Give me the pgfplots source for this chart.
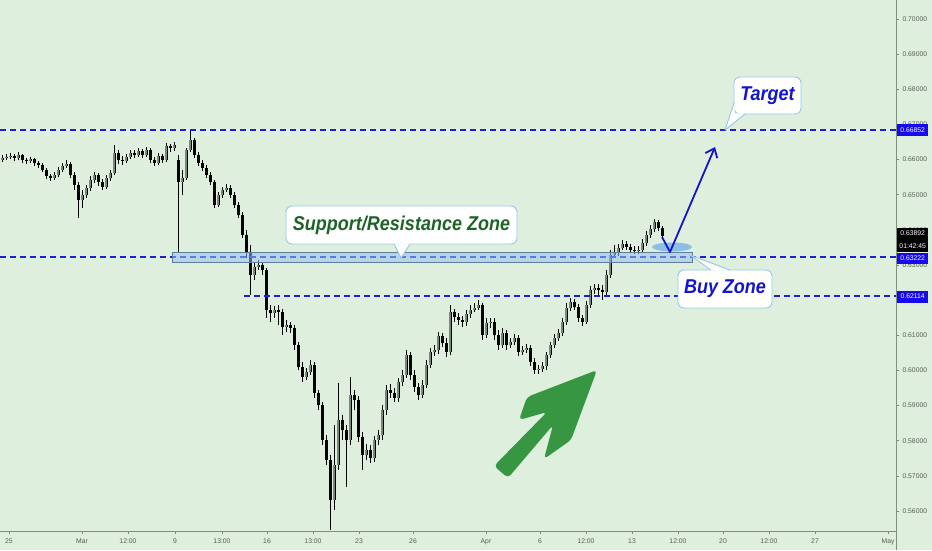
\documentclass[border=0pt]{standalone}
\usepackage{graphicx}
\usepackage{pgfplots}
\pgfplotsset{compat=1.18}
\usepackage{pgfplotstable}
\usepackage{fontspec}
\setmainfont{Liberation Sans}
\usetikzlibrary{arrows.meta}
\definecolor{bg}{RGB}{222,239,221}
\definecolor{axcol}{RGB}{125,145,125}
\definecolor{tickcol}{RGB}{85,95,85}
\definecolor{levelblue}{RGB}{30,30,210}
\definecolor{lblue}{RGB}{22,8,240}
\definecolor{zonefill}{RGB}{150,195,240}
\definecolor{zonedraw}{RGB}{95,125,155}
\definecolor{callout}{RGB}{150,200,230}
\definecolor{txtgreen}{RGB}{28,100,38}
\definecolor{txtblue}{RGB}{20,20,205}
\definecolor{arrgreen}{RGB}{55,150,65}
\definecolor{upgray}{RGB}{120,135,120}
\definecolor{ellblue}{RGB}{120,180,230}

\pgfplotstableread{
x o h l c
2 0.6599 0.6613 0.6593 0.6604
6 0.6604 0.6616 0.6599 0.6607
10 0.6607 0.6619 0.6602 0.6610
14 0.6610 0.6616 0.6596 0.6604
18 0.6604 0.6622 0.6599 0.6613
22 0.6613 0.6616 0.6590 0.6599
26 0.6599 0.6604 0.6587 0.6596
30 0.6596 0.6607 0.6590 0.6602
34 0.6602 0.6604 0.6582 0.6590
38 0.6590 0.6596 0.6576 0.6585
42 0.6585 0.6590 0.6565 0.6570
46 0.6570 0.6576 0.6545 0.6553
50 0.6553 0.6559 0.6539 0.6547
54 0.6547 0.6565 0.6542 0.6556
58 0.6556 0.6579 0.6550 0.6570
62 0.6570 0.6590 0.6565 0.6582
66 0.6582 0.6599 0.6576 0.6587
70 0.6587 0.6593 0.6547 0.6556
74 0.6556 0.6565 0.6513 0.6528
78 0.6528 0.6536 0.6434 0.6485
82 0.6485 0.6513 0.6462 0.6499
86 0.6499 0.6528 0.6491 0.6519
90 0.6519 0.6553 0.6511 0.6542
94 0.6542 0.6565 0.6533 0.6556
98 0.6556 0.6562 0.6525 0.6536
102 0.6536 0.6545 0.6513 0.6522
106 0.6522 0.6556 0.6516 0.6547
110 0.6547 0.6570 0.6539 0.6562
114 0.6562 0.6641 0.6556 0.6619
118 0.6619 0.6627 0.6587 0.6599
122 0.6599 0.6610 0.6585 0.6596
126 0.6596 0.6616 0.6590 0.6607
130 0.6607 0.6627 0.6602 0.6619
134 0.6619 0.6627 0.6604 0.6613
138 0.6613 0.6633 0.6607 0.6624
142 0.6624 0.6630 0.6604 0.6613
146 0.6613 0.6636 0.6607 0.6627
150 0.6627 0.6633 0.6590 0.6599
154 0.6599 0.6607 0.6582 0.6590
158 0.6590 0.6619 0.6585 0.6610
162 0.6610 0.6616 0.6590 0.6599
166 0.6599 0.6647 0.6593 0.6639
170 0.6639 0.6644 0.6622 0.6633
174 0.6633 0.6650 0.6624 0.6641
178 0.6599 0.6613 0.6334 0.6536
182 0.6536 0.6570 0.6499 0.6547
186 0.6547 0.6633 0.6542 0.6627
190 0.6627 0.6684 0.6622 0.6656
194 0.6656 0.6661 0.6604 0.6613
198 0.6613 0.6622 0.6582 0.6590
202 0.6590 0.6599 0.6567 0.6576
206 0.6576 0.6585 0.6547 0.6556
210 0.6556 0.6565 0.6528 0.6536
214 0.6536 0.6542 0.6462 0.6471
218 0.6471 0.6508 0.6465 0.6499
222 0.6499 0.6522 0.6491 0.6513
226 0.6513 0.6530 0.6508 0.6519
230 0.6519 0.6528 0.6491 0.6499
234 0.6499 0.6508 0.6462 0.6471
238 0.6471 0.6479 0.6434 0.6442
242 0.6442 0.6451 0.6377 0.6386
246 0.6386 0.6400 0.6320 0.6337
250 0.6337 0.6357 0.6215 0.6272
254 0.6272 0.6308 0.6257 0.6294
258 0.6294 0.6314 0.6286 0.6300
262 0.6300 0.6308 0.6272 0.6286
266 0.6286 0.6291 0.6149 0.6172
270 0.6172 0.6186 0.6138 0.6163
274 0.6163 0.6183 0.6149 0.6172
278 0.6172 0.6186 0.6129 0.6166
282 0.6166 0.6175 0.6101 0.6123
286 0.6123 0.6143 0.6109 0.6129
290 0.6129 0.6138 0.6106 0.6121
294 0.6121 0.6129 0.6058 0.6072
298 0.6072 0.6081 0.6001 0.6010
302 0.6010 0.6024 0.5967 0.5981
306 0.5981 0.6007 0.5973 0.5995
310 0.5995 0.6030 0.5987 0.6015
314 0.6015 0.6024 0.5921 0.5936
318 0.5936 0.5944 0.5887 0.5902
322 0.5902 0.5910 0.5788 0.5802
326 0.5802 0.5816 0.5731 0.5745
330 0.5745 0.5759 0.5546 0.5631
334 0.5631 0.5845 0.5603 0.5731
338 0.5731 0.5964 0.5716 0.5859
342 0.5859 0.5873 0.5802 0.5830
346 0.5830 0.5845 0.5668 0.5802
350 0.5802 0.5981 0.5788 0.5930
354 0.5930 0.5944 0.5887 0.5916
358 0.5916 0.5927 0.5796 0.5811
362 0.5811 0.5824 0.5716 0.5759
366 0.5759 0.5791 0.5745 0.5773
370 0.5773 0.5788 0.5736 0.5751
374 0.5751 0.5813 0.5739 0.5802
378 0.5802 0.5830 0.5788 0.5816
382 0.5816 0.5902 0.5802 0.5887
386 0.5887 0.5958 0.5873 0.5944
390 0.5944 0.5961 0.5921 0.5936
394 0.5936 0.5950 0.5910 0.5921
398 0.5921 0.5978 0.5910 0.5967
402 0.5967 0.6001 0.5956 0.5987
406 0.5987 0.6058 0.5978 0.6044
410 0.6044 0.6052 0.5973 0.5987
414 0.5987 0.6001 0.5939 0.5953
418 0.5953 0.5964 0.5916 0.5930
422 0.5930 0.5973 0.5921 0.5958
426 0.5958 0.6030 0.5950 0.6015
430 0.6015 0.6064 0.6007 0.6052
434 0.6052 0.6072 0.6041 0.6058
438 0.6058 0.6109 0.6047 0.6098
442 0.6098 0.6106 0.6067 0.6078
446 0.6078 0.6092 0.6038 0.6052
450 0.6052 0.6186 0.6044 0.6166
454 0.6166 0.6175 0.6138 0.6152
458 0.6152 0.6163 0.6129 0.6143
462 0.6143 0.6155 0.6123 0.6138
466 0.6138 0.6172 0.6126 0.6160
470 0.6160 0.6186 0.6149 0.6172
474 0.6172 0.6192 0.6166 0.6178
478 0.6178 0.6200 0.6172 0.6186
482 0.6186 0.6192 0.6086 0.6101
486 0.6101 0.6149 0.6092 0.6135
490 0.6135 0.6149 0.6121 0.6138
494 0.6138 0.6149 0.6086 0.6101
498 0.6101 0.6115 0.6058 0.6072
502 0.6072 0.6121 0.6064 0.6106
506 0.6106 0.6115 0.6058 0.6072
510 0.6072 0.6092 0.6064 0.6081
514 0.6081 0.6103 0.6072 0.6092
518 0.6092 0.6101 0.6041 0.6052
522 0.6052 0.6069 0.6044 0.6058
526 0.6058 0.6075 0.6050 0.6064
530 0.6064 0.6072 0.6013 0.6024
534 0.6024 0.6035 0.5990 0.6001
538 0.6001 0.6015 0.5990 0.6004
542 0.6004 0.6024 0.5995 0.6013
546 0.6013 0.6052 0.6001 0.6044
550 0.6044 0.6081 0.6035 0.6072
554 0.6072 0.6103 0.6064 0.6092
558 0.6092 0.6118 0.6084 0.6106
562 0.6106 0.6149 0.6098 0.6138
566 0.6138 0.6192 0.6129 0.6178
570 0.6178 0.6206 0.6169 0.6195
574 0.6195 0.6203 0.6172 0.6180
578 0.6180 0.6189 0.6138 0.6149
582 0.6149 0.6158 0.6126 0.6138
586 0.6138 0.6198 0.6132 0.6186
590 0.6186 0.6240 0.6178 0.6229
594 0.6229 0.6246 0.6217 0.6234
598 0.6234 0.6246 0.6215 0.6229
602 0.6229 0.6243 0.6200 0.6223
606 0.6223 0.6286 0.6215 0.6272
610 0.6272 0.6343 0.6263 0.6328
614 0.6328 0.6357 0.6320 0.6337
618 0.6337 0.6360 0.6325 0.6348
622 0.6348 0.6371 0.6343 0.6360
626 0.6360 0.6368 0.6343 0.6351
630 0.6351 0.6360 0.6334 0.6343
634 0.6343 0.6354 0.6331 0.6340
638 0.6340 0.6354 0.6331 0.6343
642 0.6343 0.6374 0.6337 0.6363
646 0.6363 0.6397 0.6354 0.6386
650 0.6386 0.6414 0.6377 0.6402
654 0.6402 0.6431 0.6394 0.6422
658 0.6422 0.6428 0.6397 0.6405
662 0.6405 0.6411 0.6374 0.6383
}\candles

\pgfplotstableread{
x y
0 0.66852
896 0.66852
}\levelA
\pgfplotstableread{
x y
0 0.63222
896 0.63222
}\levelB
\pgfplotstableread{
x y
244 0.62114
896 0.62114
}\levelC

\newcommand{\pricefont}{\fontsize{6.8}{7}\selectfont}
\newcommand{\callfont}{\fontsize{20}{24}\selectfont\bfseries\itshape}
\tikzset{level/.style={draw=levelblue, line width=2pt, dash pattern=on 5.5pt off 4.5pt}}

\begin{document}
\begin{tikzpicture}
\path[use as bounding box, fill=bg] (0,0) rectangle (932pt,550pt);
\begin{axis}[
  at={(0pt,19pt)}, anchor=south west,
  scale only axis, width=896pt, height=531pt,
  xmin=0, xmax=896, ymin=0.55431, ymax=0.70541,
  axis x line*=bottom, axis y line*=right,
  axis line style={draw=axcol, line width=0.8pt, -},
  tick align=outside, major tick length=3pt,
  tick style={draw=axcol, line width=0.6pt},
  ytick={0.56,0.57,0.58,0.59,0.60,0.61,0.63,0.64,0.65,0.66,0.67,0.68,0.69,0.70},
  scaled y ticks=false,
  /pgf/number format/assume math mode=true,
  yticklabel style={/pgf/number format/fixed, /pgf/number format/fixed zerofill, /pgf/number format/precision=5},
  xtick={9,82,128,175,222,267,313,359,413,486,540,586,632,678,723,769,815,888},
  xticklabels={25,Mar,12:00,9,13:00,16,13:00,23,26,Apr,6,12:00,13,12:00,20,12:00,27,May},
  ticklabel style={font=\pricefont, text=tickcol},
  xticklabel style={yshift=-1pt},
  clip=false,
]
\addplot[quiver={u=0,v=\thisrow{h}-\thisrow{l}}, draw=black, line width=0.8pt, mark=none] table[x=x,y=l]{\candles};
\addplot[quiver={u=0,v=\thisrow{c}-\thisrow{o}}, draw=black, line width=3.0pt, mark=none] table[x=x,y=o]{\candles};
\addplot[quiver={u=0,v=\thisrow{c}-\thisrow{o}}, draw=upgray, line width=1.2pt, mark=none,
  restrict expr to domain={\thisrow{c}-\thisrow{o}}{0.00001:1}] table[x=x,y=o]{\candles};
\addplot[level, mark=none] table[x=x,y=y]{\levelA};
\addplot[level, mark=none] table[x=x,y=y]{\levelB};
\addplot[level, mark=none] table[x=x,y=y]{\levelC};
\end{axis}
\begin{scope}[x=1pt, y=-1pt, yshift=550pt]
\draw[axcol, line width=0.8pt] (896.4,531) -- (896.4,550);
% support / resistance zone
\draw[zonedraw, line width=0.8pt, fill=zonefill, fill opacity=0.55] (172,252) rectangle (692,262);
% buy ellipse
\fill[ellblue, opacity=0.8] (672,247) ellipse [x radius=20pt, y radius=4.5pt];
% blue arrow
\draw[txtblue, line width=1.8pt, line join=round, -{Straight Barb[length=8pt, width=13pt]}] (662,237) -- (670,252) -- (715,147);
% green arrow
\fill[arrgreen, rounded corners=4pt] (494,466) -- (547,412) -- (519,420) -- (527,397) -- (597,370) -- (571,440) -- (544,459) -- (553,425) -- (508,478) -- cycle;
% callout: Support/Resistance Zone
\draw[callout, line width=0.9pt, fill=white, rounded corners=6pt] (286,206) rectangle (517,244);
\fill[white] (394,243.3) -- (401,258) -- (410,243.3) -- cycle;
\draw[callout, line width=0.9pt, line join=round] (394,244) -- (401,258) -- (410,244);
\node[txtgreen, font=\callfont, inner sep=0pt] at (401.5,225) {\scalebox{0.9}[1]{Support/Resistance Zone}};
% callout: Target
\draw[callout, line width=0.9pt, fill=white, rounded corners=6pt] (734,77) rectangle (801,114);
\fill[white] (734.6,103) -- (725,130) -- (745,113.4) -- (734.6,113.4) -- cycle;
\draw[callout, line width=0.9pt, line join=round] (734,103) -- (725,130) -- (745,114);
\node[txtblue, font=\callfont, inner sep=0pt] at (767.5,95.5) {\scalebox{0.9}[1]{Target}};
% callout: Buy Zone
\draw[callout, line width=0.9pt, fill=white, rounded corners=6pt] (678,270) rectangle (772,308);
\fill[white] (711,270.6) -- (690,255) -- (730,270.6) -- cycle;
\draw[callout, line width=0.9pt, line join=round] (711,270) -- (690,255) -- (730,270);
\node[txtblue, font=\callfont, inner sep=0pt] at (725,289) {\scalebox{0.9}[1]{Buy Zone}};
% price labels
\node[fill=lblue, text=white, font=\pricefont, inner sep=0pt, minimum width=31pt, minimum height=12pt, anchor=west] at (897,130) {0.66852};
\node[fill=black, text=white, font=\pricefont, inner sep=0pt, minimum width=31pt, minimum height=12pt, anchor=west] at (897,233.5) {0.63892};
\node[fill=black, text=white, font=\pricefont, inner sep=0pt, minimum width=31pt, minimum height=12pt, anchor=west] at (897,246) {01:42:45};
\node[fill=lblue, text=white, font=\pricefont, inner sep=0pt, minimum width=31pt, minimum height=11pt, anchor=west] at (897,258) {0.63222};
\node[fill=lblue, text=white, font=\pricefont, inner sep=0pt, minimum width=31pt, minimum height=12pt, anchor=west] at (897,296.5) {0.62114};
\end{scope}
\end{tikzpicture}
\end{document}
